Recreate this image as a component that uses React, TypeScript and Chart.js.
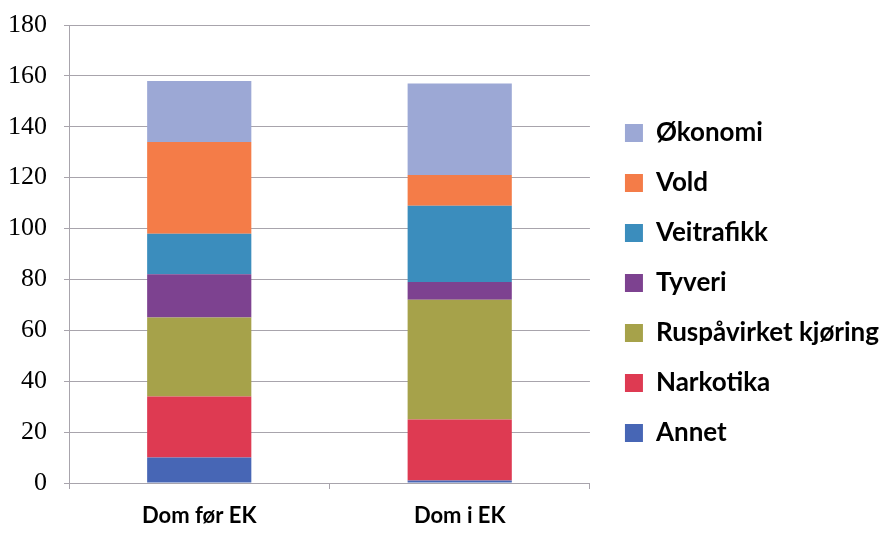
import React, { useEffect, useRef } from "react";
import { Chart, registerables } from "chart.js";

Chart.register(...registerables);

const categories = ["Dom før EK", "Dom i EK"];
const seriesNames = ["Annet", "Narkotika", "Ruspåvirket kjøring", "Tyveri", "Veitrafikk", "Vold", "Økonomi"];
const annet = [10, 1];
const narkotika = [24, 24];
const ruspavirket = [31, 47];
const tyveri = [17, 7];
const veitrafikk = [16, 30];
const vold = [36, 12];
const okonomi = [24, 36];
const seriesColors = ["#4766b5", "#de3a52", "#a6a24a", "#7d4290", "#3b8dbd", "#f47c48", "#9ca8d5"];
const yTicks = [0, 20, 40, 60, 80, 100, 120, 140, 160, 180];

export default function App() {
  const ref = useRef<HTMLCanvasElement>(null);
  useEffect(() => {
    document.body.style.margin = "0";
    let chart: Chart | null = null;
    let cancelled = false;
    const values = [annet, narkotika, ruspavirket, tyveri, veitrafikk, vold, okonomi];
    const build = () => {
      if (cancelled || !ref.current) return;
      chart = new Chart(ref.current, {
        type: "bar",
        data: {
          labels: categories,
          datasets: seriesNames.map((name, i) => ({
            label: name,
            data: values[i],
            backgroundColor: seriesColors[i],
            borderWidth: 0,
            barPercentage: 0.4,
            categoryPercentage: 1.0,
          })),
        },
        options: {
          animation: false,
          responsive: false,
          maintainAspectRatio: false,
          layout: { padding: { top: 25, right: -8, bottom: 0, left: 0 } },
          plugins: {
            tooltip: { enabled: false },
            legend: {
              position: "right",
              reverse: true,
              maxWidth: 400,
              title: { display: true, text: " ", font: { size: 7, lineHeight: 1 }, padding: 0 },
              labels: {
                boxWidth: 18,
                boxHeight: 18,
                padding: 24,
                color: "#000",
                font: { family: "Lato", weight: "bold", size: 26 },
              },
            },
          },
          scales: {
            x: {
              stacked: true,
              grid: { display: true, drawOnChartArea: false, drawTicks: true, tickLength: 6, color: "#a8a4ac" },
              border: { display: true, color: "#a8a4ac" },
              ticks: { color: "#000", padding: 14, font: { family: "Lato", weight: "bold", size: 22 } },
              afterFit: (s: any) => { s.height = 51; },
            },
            y: {
              stacked: true,
              min: 0,
              max: 180,
              afterBuildTicks: (s: any) => { s.ticks = yTicks.map((v) => ({ value: v })); },
              grid: { color: "#a8a4ac", tickLength: 5 },
              border: { display: true, color: "#a8a4ac" },
              ticks: { color: "#000", padding: 17, font: { family: "Liberation Serif", size: 26 } },
              afterFit: (s: any) => { s.width = 69; s.paddingTop = 0; s.paddingBottom = 0; },
            },
            y2: {
              position: "right",
              display: true,
              grid: { display: false },
              border: { display: false },
              ticks: { display: false },
              afterFit: (s: any) => { s.width = 11; s.paddingTop = 0; s.paddingBottom = 0; },
            },
          },
        },
      });
    };
    const fontsApi = (document as any).fonts;
    if (fontsApi && fontsApi.load) {
      Promise.all([
        fontsApi.load('bold 26px "Lato"', "Økonomi Ruspåvirket kjøring Dom før EK"),
        fontsApi.load('26px "Liberation Serif"', "0123456789"),
      ]).then(build, build);
    } else {
      build();
    }
    return () => {
      cancelled = true;
      if (chart) chart.destroy();
    };
  }, []);
  return (
    <div style={{ width: 881, height: 534 }}>
      <canvas ref={ref} width={881} height={534} style={{ width: 881, height: 534, display: "block" }} />
    </div>
  );
}
